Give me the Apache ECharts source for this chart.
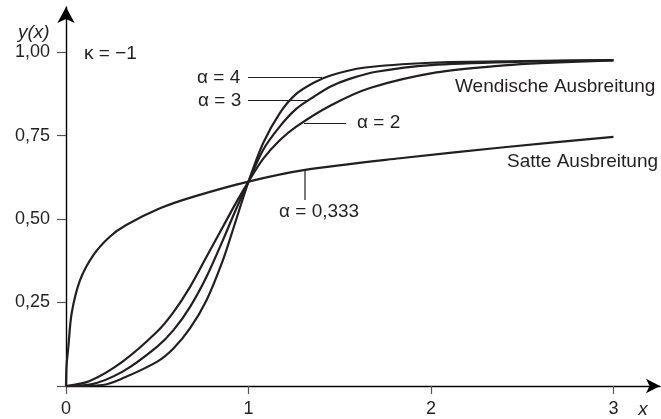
<!DOCTYPE html>
<html>
<head>
<meta charset="utf-8">
<script src="https://cdn.jsdelivr.net/npm/echarts@6/dist/echarts.min.js"></script>
<style>
  html, body { margin: 0; padding: 0; background: #fff; }
  #chart { width: 661px; height: 419px; }
</style>
</head>
<body>
<div id="chart"></div>
<script>
// Werte (kappa = -1)
var xTicks = [0, 1, 2, 3];
var yTicks = [0.25, 0.5, 0.75, 1];

// alpha = 0,333  (Satte Ausbreitung)
var xA033 = [0, 0.003, 0.013, 0.031, 0.077, 0.15, 0.24, 0.33, 0.515, 0.70, 1.0, 1.31, 1.83, 2.4, 3.0];
var yA033 = [0, 0.06, 0.118, 0.218, 0.317, 0.392, 0.447, 0.482, 0.532, 0.567, 0.612, 0.647, 0.682, 0.715, 0.746];

// alpha = 2
var xA2 = [0, 0.13, 0.31, 0.5, 0.59, 0.68, 0.77, 0.86, 0.93, 1.0, 1.08, 1.17, 1.26, 1.45, 1.67, 2.03, 2.4, 2.6, 3.0];
var yA2 = [0, 0.015, 0.073, 0.163, 0.222, 0.297, 0.387, 0.477, 0.547, 0.612, 0.680, 0.735, 0.776, 0.840, 0.893, 0.939, 0.960, 0.967, 0.975];

// alpha = 3
var xA3 = [0, 0.13, 0.31, 0.5, 0.59, 0.68, 0.77, 0.86, 0.93, 1.0, 1.08, 1.17, 1.26, 1.36, 1.45, 1.55, 1.7, 2.0, 2.5, 3.0];
var yA3 = [0, 0.004, 0.043, 0.118, 0.168, 0.237, 0.327, 0.437, 0.527, 0.612, 0.707, 0.776, 0.829, 0.867, 0.897, 0.919, 0.941, 0.961, 0.971, 0.976];

// alpha = 4
var xA4 = [0, 0.2, 0.31, 0.5, 0.59, 0.68, 0.77, 0.86, 0.92, 1.0, 1.08, 1.17, 1.26, 1.36, 1.45, 1.63, 2.0, 2.5, 3.0];
var yA4 = [0, 0.003, 0.023, 0.073, 0.113, 0.173, 0.257, 0.377, 0.477, 0.612, 0.727, 0.816, 0.874, 0.909, 0.930, 0.953, 0.968, 0.973, 0.976];

function pairs(xs, ys) {
  return xs.map(function (x, i) { return [x, ys[i]]; });
}

var FONT = '"Liberation Sans", Arial, sans-serif';
var INK = '#231f20';

function curve(name, xs, ys) {
  return {
    name: name,
    type: 'line',
    data: pairs(xs, ys),
    showSymbol: false,
    smooth: 0.3,
    lineStyle: { color: INK, width: 2.2 },
    silent: true
  };
}

function txt(s, x, y, align, italic) {
  return {
    type: 'text',
    style: {
      text: s, x: x, y: y,
      textAlign: align || 'left',
      textVerticalAlign: 'middle',
      fontFamily: FONT, fontSize: 19,
      fontStyle: italic ? 'italic' : 'normal',
      fill: INK
    }
  };
}

function seg(x1, y1, x2, y2) {
  return {
    type: 'line',
    shape: { x1: x1, y1: y1, x2: x2, y2: y2 },
    style: { stroke: INK, lineWidth: 1.2 }
  };
}

var chart = echarts.init(document.getElementById('chart'));
chart.setOption({
  animation: false,
  backgroundColor: '#fff',
  grid: { left: 66, right: 1, top: 7, bottom: 33 },
  xAxis: {
    type: 'value',
    min: 0, max: 3.255,
    splitLine: { show: false },
    axisLine: {
      onZero: false,
      symbol: ['none', 'arrow'],
      symbolSize: [11, 14],
      lineStyle: { color: '#000', width: 1.4 }
    },
    axisTick: { customValues: xTicks, length: 8, lineStyle: { color: '#555', width: 1.2 } },
    axisLabel: {
      customValues: xTicks, margin: 14,
      fontFamily: FONT, fontSize: 18, color: INK,
      formatter: function (v) { return String(v); }
    }
  },
  yAxis: {
    type: 'value',
    min: 0, max: 1.135,
    splitLine: { show: false },
    axisLine: {
      onZero: false,
      symbol: ['none', 'arrow'],
      symbolSize: [13, 16],
      lineStyle: { color: '#000', width: 1.4 }
    },
    axisTick: { customValues: [0].concat(yTicks), length: 9, lineStyle: { color: '#555', width: 1.2 } },
    axisLabel: {
      customValues: yTicks, margin: 16,
      fontFamily: FONT, fontSize: 18, color: INK,
      formatter: function (v) { return v.toFixed(2).replace('.', ','); }
    }
  },
  series: [
    curve('alpha = 0,333', xA033, yA033),
    curve('alpha = 2', xA2, yA2),
    curve('alpha = 3', xA3, yA3),
    curve('alpha = 4', xA4, yA4)
  ],
  graphic: [
    txt('y(x)', 18, 33, 'left', true),
    txt('x', 643, 410, 'center', true),
    txt('\u03ba = \u22121', 84, 54, 'left'),
    txt('\u03b1 = 4', 197, 78, 'left'),
    seg(248, 77.5, 322, 77.5),
    txt('\u03b1 = 3', 198, 101, 'left'),
    seg(248, 100.5, 308, 100.5),
    txt('\u03b1 = 2', 357, 123, 'left'),
    seg(304, 123.5, 346, 123.5),
    txt('\u03b1 = 0,333', 279, 212, 'left'),
    seg(305, 170, 305, 200),
    txt('Wendische Ausbreitung', 455, 87, 'left'),
    txt('Satte Ausbreitung', 507, 162, 'left')
  ]
});
</script>
</body>
</html>
